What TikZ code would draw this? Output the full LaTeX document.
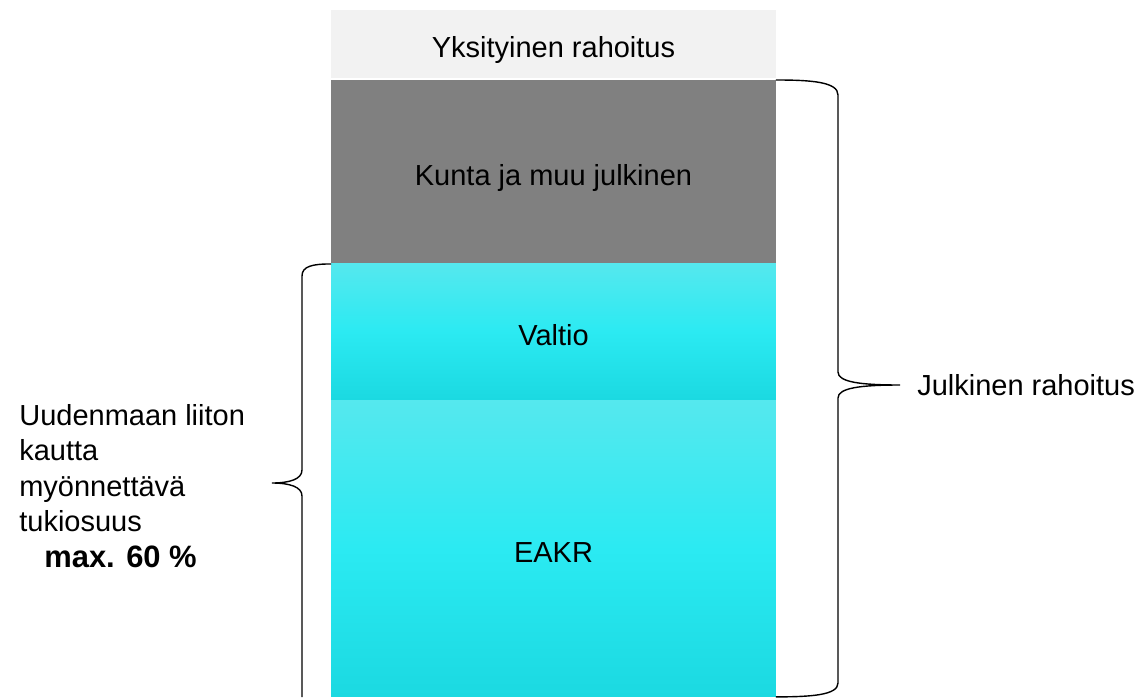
\documentclass[tikz,border=0pt]{standalone}
\usepackage{fontspec}
\setmainfont{Liberation Sans}
\usetikzlibrary{positioning, calc}
\definecolor{yksgray}{HTML}{F2F2F2}
\definecolor{kuntagray}{HTML}{808080}
\definecolor{cyantop}{HTML}{55E8EE}
\definecolor{cyanmid}{HTML}{2BEAF2}
\definecolor{cyanbot}{HTML}{1BD9E1}
\begin{document}
\begin{tikzpicture}[x=0.02cm, y=-0.02cm,
	box/.style={minimum width=8.9cm, inner sep=0pt, outer sep=0pt, text height=15.2pt, text depth=0pt, font=\fontsize{16.5}{20}\selectfont},
	cyanbox/.style={box, top color=cyantop, bottom color=cyanbot, middle color=cyanmid},
	lbl/.style={inner sep=0pt, font=\fontsize{16.5}{20.2}\selectfont},
	brc/.style={draw=black, line width=0.8pt}]
	\useasboundingbox (0,0) rectangle (1140,697);
	\node[box, fill=yksgray, minimum height=1.36cm] (yks) at (553.5,44) {Yksityinen rahoitus};
	\node[box, fill=kuntagray, minimum height=3.68cm, below=0.04cm of yks] (kunta) {Kunta ja muu julkinen};
	\node[cyanbox, minimum height=2.72cm, below=0pt of kunta] (valtio) {Valtio};
	\node[cyanbox, minimum height=5.92cm, below=0.02cm of valtio] (eakr) {EAKR};
	\coordinate (rtip) at (900,385);
	\coordinate (ltip) at (272,483);
	\coordinate (lend) at (302,697);
	\draw[brc] (kunta.north east) .. controls +(36,0) and +(0,-13) .. (838,95) -- (838,372)
		.. controls +(0,10) and +(-40,0) .. (rtip) .. controls +(-40,0) and +(0,-10) .. (838,398)
		-- (838,683) .. controls +(0,12) and +(36,0) .. (eakr.south east);
	\draw[brc] (valtio.north west) .. controls +(-18,0) and +(0,-10) .. (302,276) -- (302,470)
		.. controls +(0,9) and +(18,0) .. (ltip) .. controls +(18,0) and +(0,-9) .. (302,496) -- (lend);
	\node[lbl, right=0.34cm of rtip] (julk) {Julkinen rahoitus};
	\node[lbl, align=left, anchor=north west] (tuki) at (19,404) {Uudenmaan liiton\\kautta\\myönnettävä\\tukiosuus\\\hspace*{0.5cm}{\fontsize{17.6}{20.2}\selectfont\textbf{max. 60 \%}}};
\end{tikzpicture}
\end{document}
